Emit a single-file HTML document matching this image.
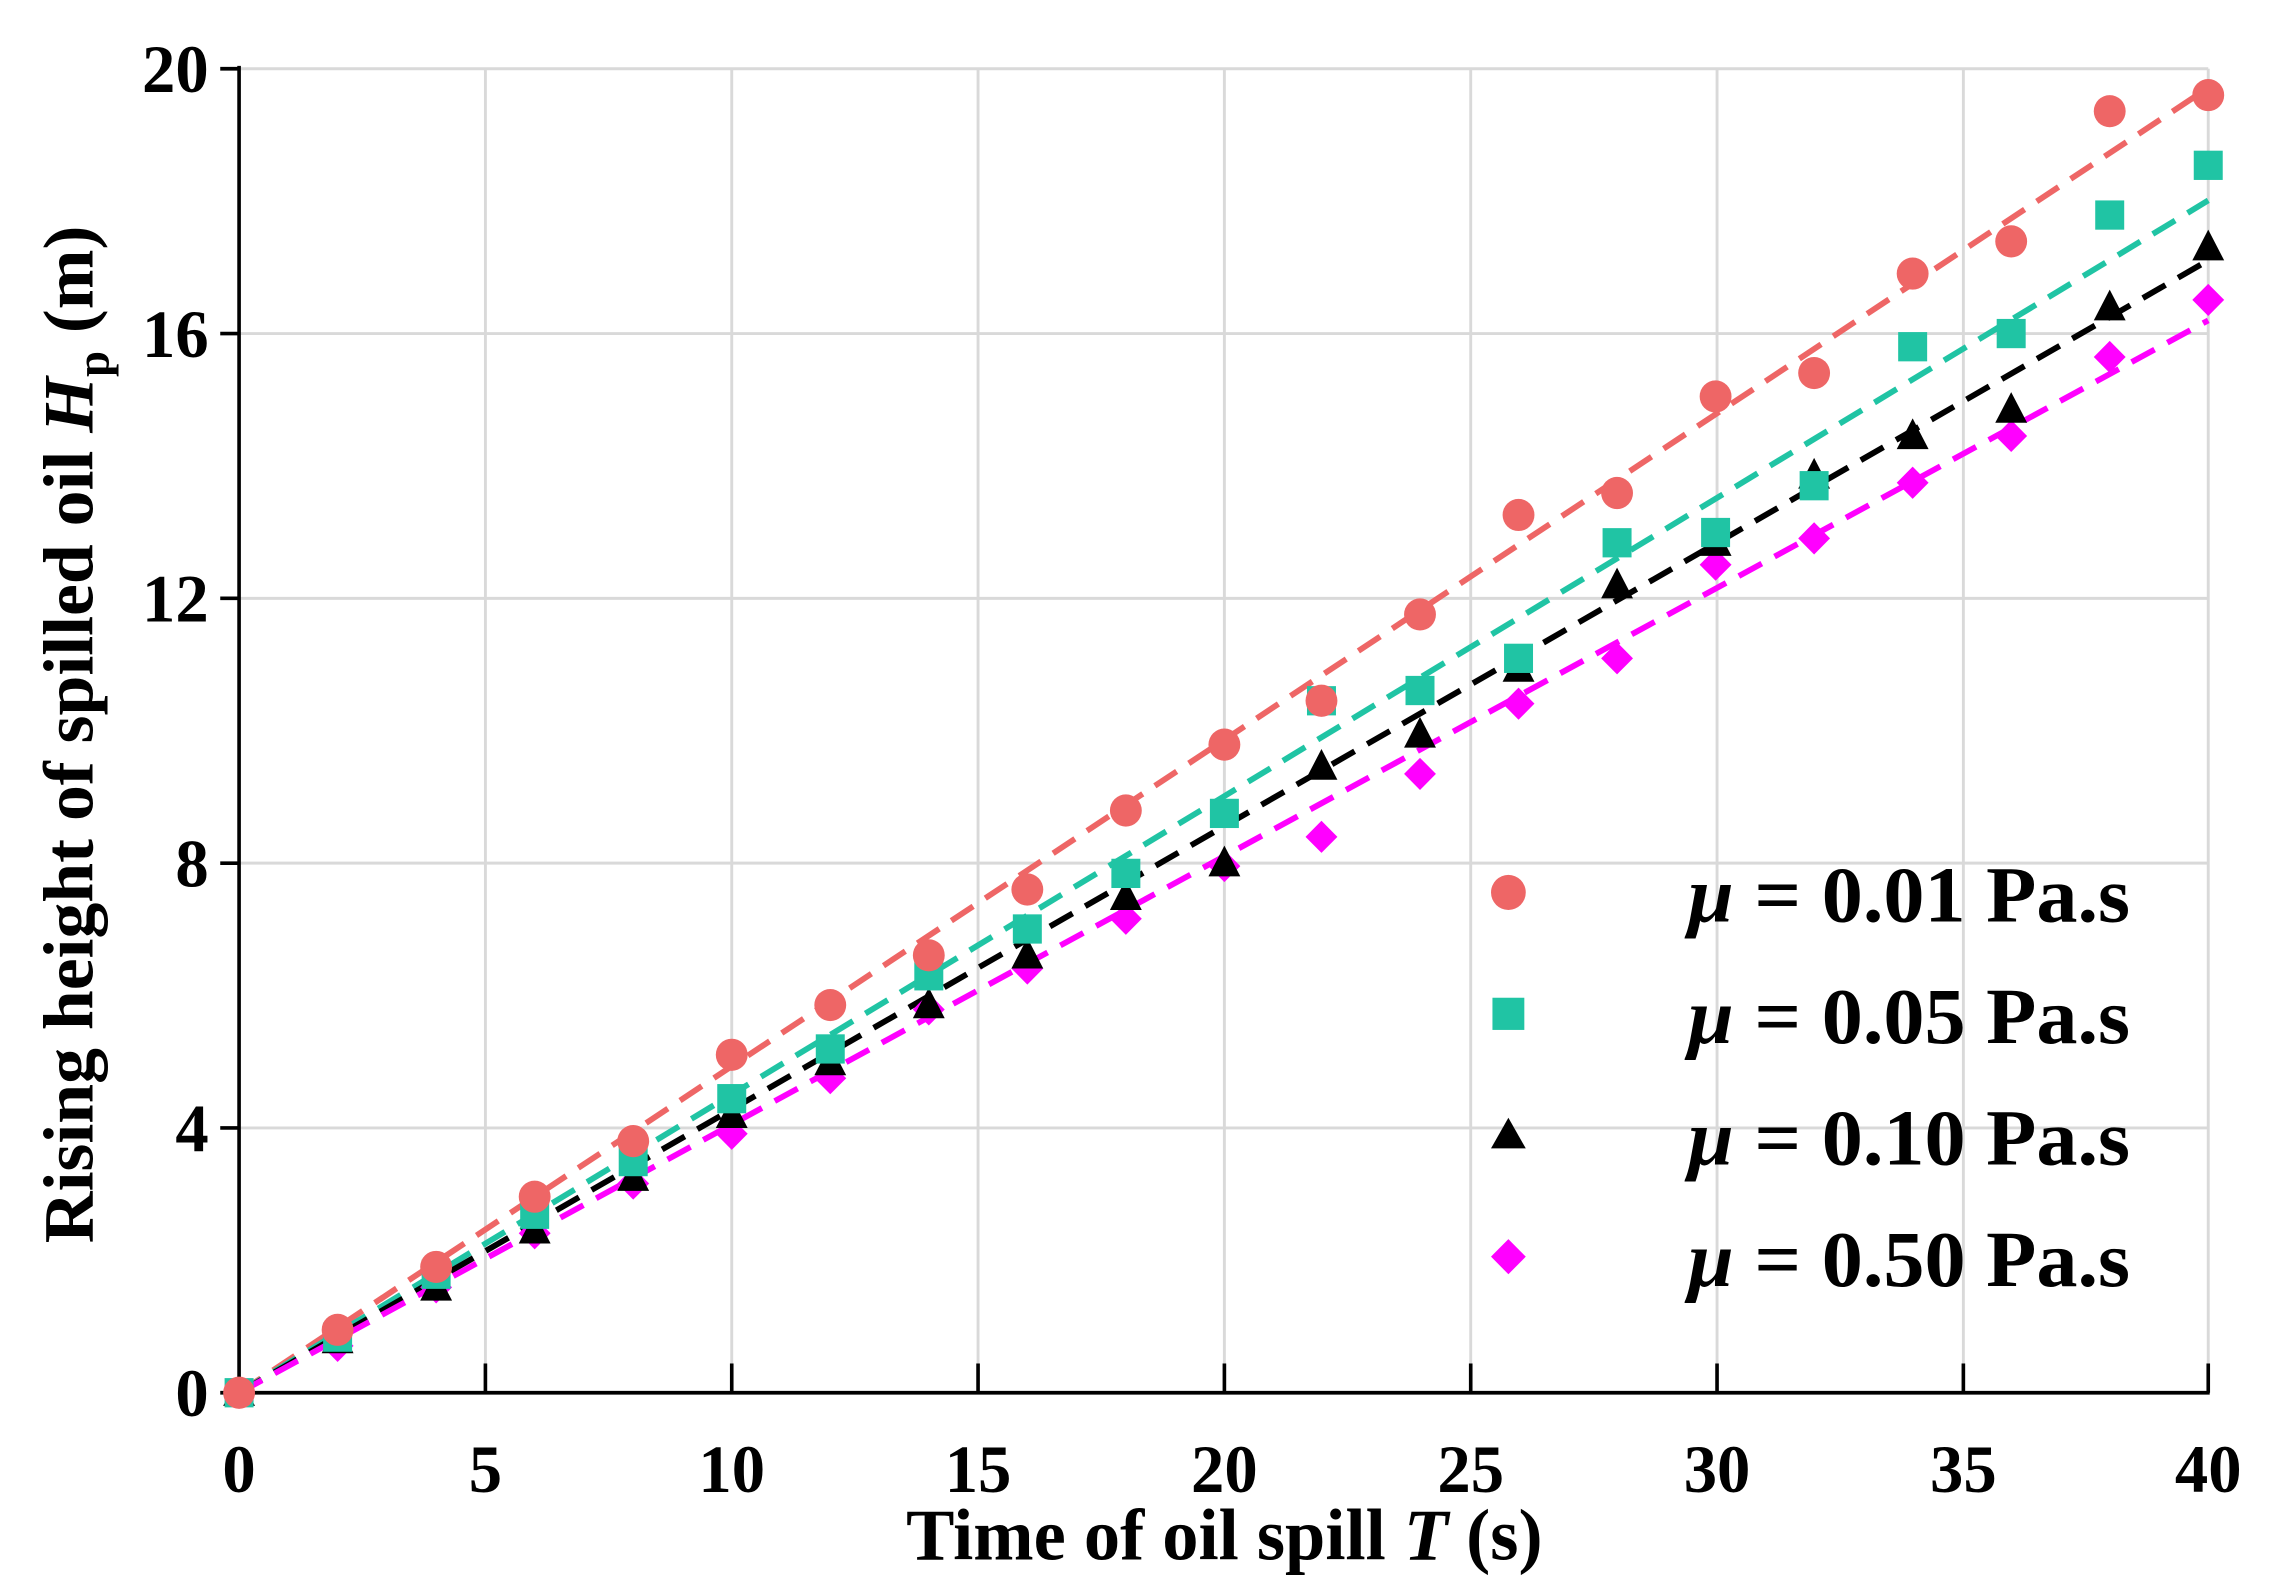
<!DOCTYPE html>
<html><head><meta charset="utf-8"><style>html,body{margin:0;padding:0;background:#fff}svg{display:block}</style></head><body>
<svg width="2272" height="1580" viewBox="0 0 1568 1080" preserveAspectRatio="none" xmlns="http://www.w3.org/2000/svg" xmlns:xlink="http://www.w3.org/1999/xlink" font-family="Liberation Serif, serif" font-weight="bold">
<defs>
<circle id="c" cx="0" cy="0" r="11" fill="#ee6666"/>
<rect id="s" x="-10" y="-10" width="20" height="20" fill="#20c4a4"/>
<polygon id="t" points="0,-12 11,9 -11,9" fill="#000"/>
<polygon id="d" points="0,-11 11,0 0,11 -11,0" fill="#ff00ff"/>
</defs>
<g stroke="#d9d9d9" stroke-width="2">
<line x1="335" y1="47" x2="335" y2="952"/><line x1="505" y1="47" x2="505" y2="952"/><line x1="675" y1="47" x2="675" y2="952"/><line x1="845" y1="47" x2="845" y2="952"/><line x1="1015" y1="47" x2="1015" y2="952"/><line x1="1185" y1="47" x2="1185" y2="952"/><line x1="1355" y1="47" x2="1355" y2="952"/><line x1="1524" y1="47" x2="1524" y2="952"/>
<line x1="165" y1="771" x2="1524" y2="771"/><line x1="165" y1="590" x2="1524" y2="590"/><line x1="165" y1="409" x2="1524" y2="409"/><line x1="165" y1="228" x2="1524" y2="228"/><line x1="165" y1="47" x2="1524" y2="47"/>
</g>
<g stroke="#000" stroke-width="2.5">
<line x1="165" y1="45" x2="165" y2="953"/><line x1="164" y1="952" x2="1525" y2="952"/>
<line x1="165" y1="47" x2="152" y2="47"/><line x1="165" y1="228" x2="152" y2="228"/><line x1="165" y1="409" x2="152" y2="409"/><line x1="165" y1="590" x2="152" y2="590"/><line x1="165" y1="771" x2="152" y2="771"/><line x1="165" y1="952" x2="152" y2="952"/>
<line x1="335" y1="952" x2="335" y2="932"/><line x1="505" y1="952" x2="505" y2="932"/><line x1="675" y1="952" x2="675" y2="932"/><line x1="845" y1="952" x2="845" y2="932"/><line x1="1015" y1="952" x2="1015" y2="932"/><line x1="1185" y1="952" x2="1185" y2="932"/><line x1="1355" y1="952" x2="1355" y2="932"/><line x1="1524" y1="952" x2="1524" y2="932"/>
</g>
<g font-size="46" text-anchor="end">
<text x="144" y="63">20</text><text x="144" y="244">16</text><text x="144" y="425">12</text><text x="144" y="606">8</text><text x="144" y="787">4</text><text x="144" y="968">0</text>
</g>
<g font-size="46" text-anchor="middle">
<text x="165" y="1020">0</text><text x="335" y="1020">5</text><text x="505" y="1020">10</text><text x="675" y="1020">15</text><text x="845" y="1020">20</text><text x="1015" y="1020">25</text><text x="1185" y="1020">30</text><text x="1355" y="1020">35</text><text x="1524" y="1020">40</text>
</g>
<text x="845" y="1066" font-size="50" text-anchor="middle">Time of oil spill <tspan font-style="italic">T</tspan> (s)</text>
<text transform="translate(64,502) rotate(-90)" font-size="49" text-anchor="middle">Rising height of spilled oil <tspan font-style="italic">H</tspan><tspan font-size="32" dy="11">p</tspan><tspan dy="-11"> (m)</tspan></text>
<g fill="none" stroke-width="4" stroke-dasharray="18 10">
<line x1="165" y1="952" x2="1524" y2="60" stroke="#ee6666"/>
<line x1="165" y1="952" x2="1524" y2="137" stroke="#20c4a4"/>
<line x1="165" y1="952" x2="1524" y2="178" stroke="#000"/>
<line x1="165" y1="952" x2="1524" y2="219" stroke="#ff00ff"/>
</g>
<g>
<use xlink:href="#d" x="165" y="952"/><use xlink:href="#d" x="233" y="920"/><use xlink:href="#d" x="301" y="880"/><use xlink:href="#d" x="369" y="843"/><use xlink:href="#d" x="437" y="809"/><use xlink:href="#d" x="505" y="775"/><use xlink:href="#d" x="573" y="737"/><use xlink:href="#d" x="641" y="690"/><use xlink:href="#d" x="709" y="662"/><use xlink:href="#d" x="777" y="628"/><use xlink:href="#d" x="845" y="592"/><use xlink:href="#d" x="912" y="572"/><use xlink:href="#d" x="980" y="529"/><use xlink:href="#d" x="1048" y="481"/><use xlink:href="#d" x="1116" y="450"/><use xlink:href="#d" x="1184" y="386"/><use xlink:href="#d" x="1252" y="368"/><use xlink:href="#d" x="1320" y="330"/><use xlink:href="#d" x="1388" y="298"/><use xlink:href="#d" x="1456" y="244"/><use xlink:href="#d" x="1524" y="205"/>
<use xlink:href="#t" x="165" y="952"/><use xlink:href="#t" x="233" y="916"/><use xlink:href="#t" x="301" y="880"/><use xlink:href="#t" x="369" y="841"/><use xlink:href="#t" x="437" y="805"/><use xlink:href="#t" x="505" y="762"/><use xlink:href="#t" x="573" y="726"/><use xlink:href="#t" x="641" y="687"/><use xlink:href="#t" x="709" y="653"/><use xlink:href="#t" x="777" y="613"/><use xlink:href="#t" x="845" y="590"/><use xlink:href="#t" x="912" y="524"/><use xlink:href="#t" x="980" y="502"/><use xlink:href="#t" x="1048" y="457"/><use xlink:href="#t" x="1116" y="400"/><use xlink:href="#t" x="1184" y="371"/><use xlink:href="#t" x="1252" y="325"/><use xlink:href="#t" x="1320" y="298"/><use xlink:href="#t" x="1388" y="280"/><use xlink:href="#t" x="1456" y="210"/><use xlink:href="#t" x="1524" y="169"/>
<use xlink:href="#s" x="165" y="952"/><use xlink:href="#s" x="233" y="914"/><use xlink:href="#s" x="301" y="871"/><use xlink:href="#s" x="369" y="830"/><use xlink:href="#s" x="437" y="794"/><use xlink:href="#s" x="505" y="751"/><use xlink:href="#s" x="573" y="717"/><use xlink:href="#s" x="641" y="667"/><use xlink:href="#s" x="709" y="635"/><use xlink:href="#s" x="777" y="597"/><use xlink:href="#s" x="845" y="556"/><use xlink:href="#s" x="912" y="479"/><use xlink:href="#s" x="980" y="472"/><use xlink:href="#s" x="1048" y="450"/><use xlink:href="#s" x="1116" y="371"/><use xlink:href="#s" x="1184" y="364"/><use xlink:href="#s" x="1252" y="332"/><use xlink:href="#s" x="1320" y="237"/><use xlink:href="#s" x="1388" y="228"/><use xlink:href="#s" x="1456" y="147"/><use xlink:href="#s" x="1524" y="113"/>
<use xlink:href="#c" x="165" y="952"/><use xlink:href="#c" x="233" y="909"/><use xlink:href="#c" x="301" y="866"/><use xlink:href="#c" x="369" y="818"/><use xlink:href="#c" x="437" y="780"/><use xlink:href="#c" x="505" y="721"/><use xlink:href="#c" x="573" y="687"/><use xlink:href="#c" x="641" y="653"/><use xlink:href="#c" x="709" y="608"/><use xlink:href="#c" x="777" y="554"/><use xlink:href="#c" x="845" y="509"/><use xlink:href="#c" x="912" y="479"/><use xlink:href="#c" x="980" y="420"/><use xlink:href="#c" x="1048" y="352"/><use xlink:href="#c" x="1116" y="337"/><use xlink:href="#c" x="1184" y="271"/><use xlink:href="#c" x="1252" y="255"/><use xlink:href="#c" x="1320" y="187"/><use xlink:href="#c" x="1388" y="165"/><use xlink:href="#c" x="1456" y="76"/><use xlink:href="#c" x="1524" y="65"/>
</g>
<g font-size="54">
<circle cx="1041" cy="610" r="12" fill="#ee6666"/>
<rect x="1030" y="682" width="22" height="22" fill="#20c4a4"/>
<polygon points="1041,764 1053,785 1029,785" fill="#000"/>
<polygon points="1041,847 1053,859 1041,871 1029,859" fill="#ff00ff"/>
<text x="1165" y="630" textLength="305" lengthAdjust="spacingAndGlyphs"><tspan font-style="italic">μ</tspan> = 0.01 Pa.s</text>
<text x="1165" y="713" textLength="305" lengthAdjust="spacingAndGlyphs"><tspan font-style="italic">μ</tspan> = 0.05 Pa.s</text>
<text x="1165" y="796" textLength="305" lengthAdjust="spacingAndGlyphs"><tspan font-style="italic">μ</tspan> = 0.10 Pa.s</text>
<text x="1165" y="879" textLength="305" lengthAdjust="spacingAndGlyphs"><tspan font-style="italic">μ</tspan> = 0.50 Pa.s</text>
</g>
</svg>
</body></html>
